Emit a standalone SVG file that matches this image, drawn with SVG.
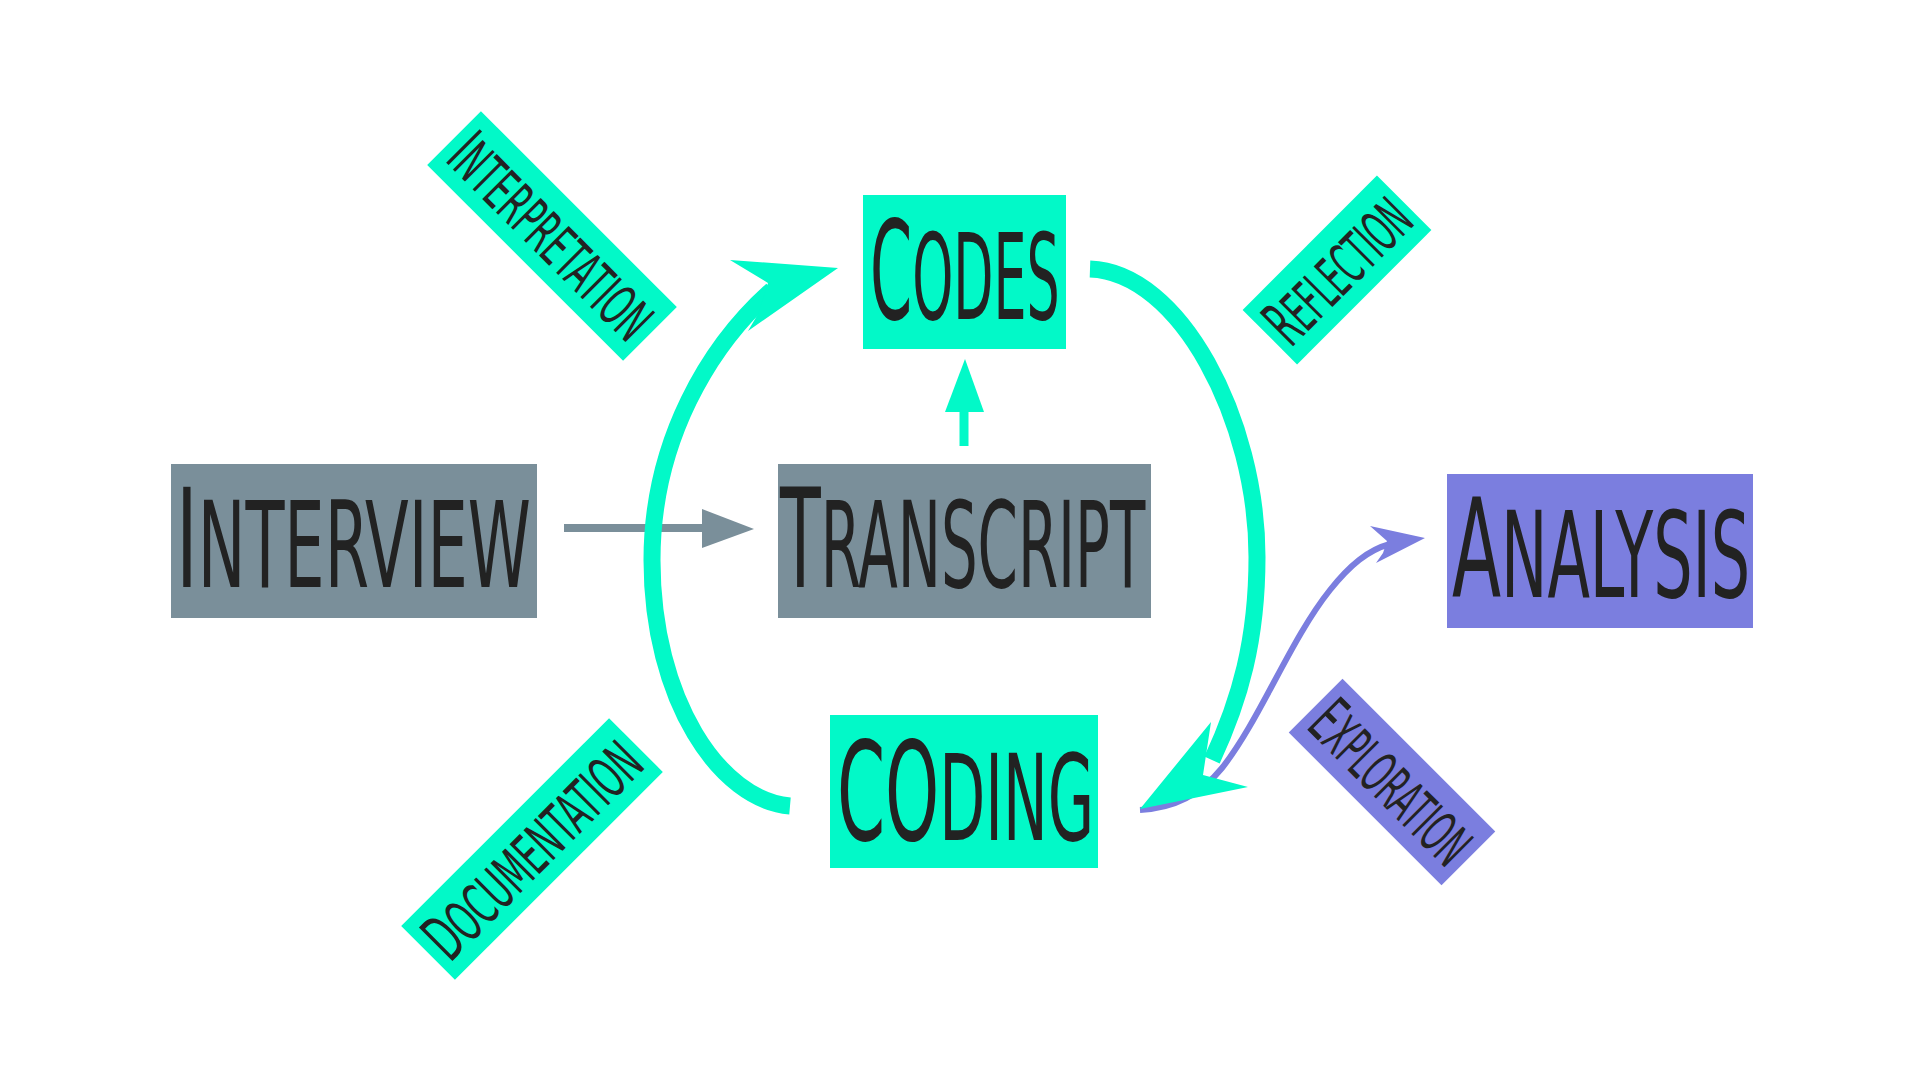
<svg xmlns="http://www.w3.org/2000/svg" width="1920" height="1080" viewBox="0 0 1920 1080">
  <style>
    .bg { fill: #ffffff; }
    .cyan { fill: #02f9c8; }
    .gray { fill: #7a8f9a; }
    .purple { fill: #7b7edf; }
    text { font-family: "Liberation Sans Narrow", "DejaVu Sans Condensed", "Liberation Sans", sans-serif; fill: #222222; }
    .n1 { font-size: 137px; }
    .n2 { font-size: 170px; font-variant: small-caps; }
    .l1 { font-size: 65px; }
    .l2 { font-size: 82px; font-variant: small-caps; }
    .arc { fill: none; stroke: #02f9c8; stroke-width: 17; }
    .parc { fill: none; stroke: #7b7edf; stroke-width: 6; }
    .garc { fill: none; stroke: #7a8f9a; stroke-width: 8; }
  </style>
  <rect class="bg" x="0" y="0" width="1920" height="1080"/>

  <g id="connectors">
    <!-- Interview -> Transcript -->
    <line class="garc" x1="564" y1="528" x2="706" y2="528"/>
    <polygon class="gray" points="702,509 754,529 702,548"/>
    <!-- Exploration: Coding -> Analysis -->
    <path class="parc" d="M1140,810 C1175,808 1200,795 1222,768 C1260,720 1290,640 1330,590 C1350,565 1368,550 1390,544"/>
    <polygon class="purple" points="1370,526 1425,538 1376,563 1383,553 1387,541"/>
    <!-- Transcript -> Codes -->
    <line x1="964" y1="446" x2="964" y2="405" stroke="#02f9c8" stroke-width="9"/>
    <polygon class="cyan" points="965,359 984,412 945,412"/>
    <!-- Coding -> Codes (left arc) -->
    <path class="arc" d="M790,806 C720,800 652,700 652,560 C652,440 710,345 772,290"/>
    <polygon class="cyan" points="730,260 838,268 748,331 758,314 768,283"/>
    <!-- Codes -> Coding (right arc) -->
    <path class="arc" d="M1090,269 C1180,272 1257,420 1257,557 C1257,640 1240,700 1212,760"/>
    <polygon class="cyan" points="1211,722 1140,809 1248,787 1203,775"/>
  </g>

  <g id="node-interview">
    <rect class="gray" x="171" y="464" width="366" height="154"/>
    <text transform="translate(176,587) scale(0.65,1)" x="0" y="0" textLength="546" lengthAdjust="spacingAndGlyphs"><tspan class="n1">I</tspan><tspan class="n2">nterview</tspan></text>
  </g>

  <g id="node-transcript">
    <rect class="gray" x="778" y="464" width="373" height="154"/>
    <text transform="translate(780,587) scale(0.577,1)" x="0" y="0" textLength="633" lengthAdjust="spacingAndGlyphs"><tspan class="n1">T</tspan><tspan class="n2">ranscript</tspan></text>
  </g>

  <g id="node-codes">
    <rect class="cyan" x="863" y="195" width="203" height="154"/>
    <text transform="translate(870,319) scale(0.53,1)" x="0" y="0" textLength="358" lengthAdjust="spacingAndGlyphs"><tspan class="n1">C</tspan><tspan class="n2">odes</tspan></text>
  </g>

  <g id="node-coding">
    <rect class="cyan" x="830" y="715" width="268" height="153"/>
    <text transform="translate(837,840) scale(0.575,1)" x="0" y="0" textLength="447" lengthAdjust="spacingAndGlyphs"><tspan class="n1">CO</tspan><tspan class="n2">ding</tspan></text>
  </g>

  <g id="node-analysis">
    <rect class="purple" x="1447" y="474" width="306" height="154"/>
    <text transform="translate(1452,597) scale(0.605,1)" x="0" y="0" textLength="493" lengthAdjust="spacingAndGlyphs"><tspan class="n1">A</tspan><tspan class="n2">nalysis</tspan></text>
  </g>

  <g id="label-interpretation" transform="translate(552,236) rotate(45)">
    <rect class="cyan" x="-138.5" y="-38" width="277" height="76"/>
    <text transform="translate(-130,23) scale(0.631,1)" x="0" y="0" textLength="412" lengthAdjust="spacingAndGlyphs"><tspan class="l1">I</tspan><tspan class="l2">nterpretation</tspan></text>
  </g>

  <g id="label-reflection" transform="translate(1337,270) rotate(-45)">
    <rect class="cyan" x="-95" y="-38.5" width="190" height="77"/>
    <text transform="translate(-88,23) scale(0.58,1)" x="0" y="0" textLength="305" lengthAdjust="spacingAndGlyphs"><tspan class="l1">R</tspan><tspan class="l2">eflection</tspan></text>
  </g>

  <g id="label-documentation" transform="translate(532,849) rotate(-45)">
    <rect class="cyan" x="-147" y="-38" width="294" height="76"/>
    <text transform="translate(-139,23) scale(0.662,1)" x="0" y="0" textLength="420" lengthAdjust="spacingAndGlyphs"><tspan class="l1">D</tspan><tspan class="l2">ocumentation</tspan></text>
  </g>

  <g id="label-exploration" transform="translate(1392,782) rotate(45)">
    <rect class="purple" x="-108" y="-38" width="216" height="76"/>
    <text transform="translate(-100,23) scale(0.585,1)" x="0" y="0" textLength="342" lengthAdjust="spacingAndGlyphs"><tspan class="l1">E</tspan><tspan class="l2">xploration</tspan></text>
  </g>
</svg>
